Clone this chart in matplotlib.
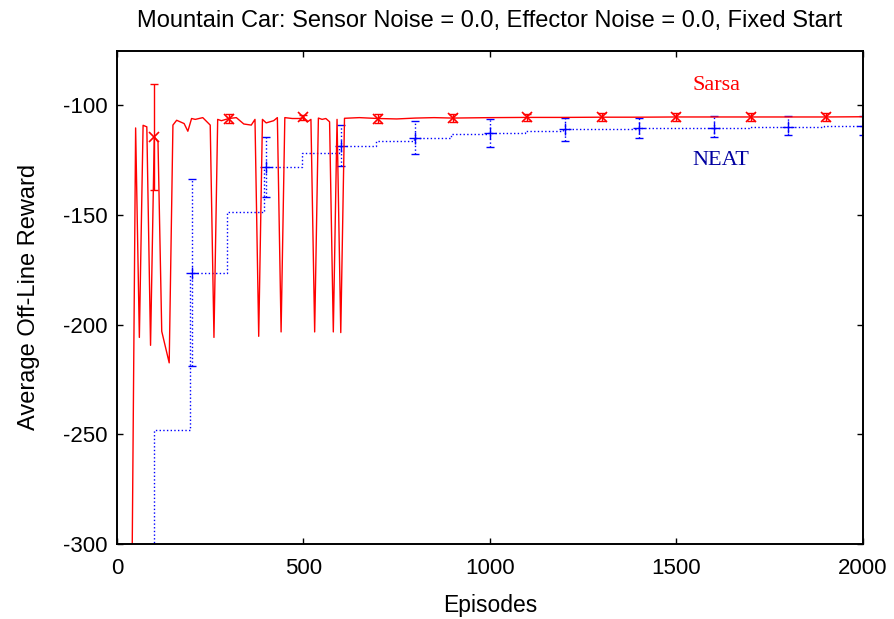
"""Mountain Car off-line reward: Sarsa vs NEAT (fixed start, no noise)."""

import matplotlib
matplotlib.use("Agg")
import matplotlib.pyplot as plt

plt.rcParams["axes.unicode_minus"] = False

# --- Sarsa: average off-line reward (sampled every ~10 episodes early on) ---
sarsa_ep = [30, 40, 50, 60, 70, 80, 90, 100, 110, 120, 140, 150, 160, 180, 190,
            200, 210, 230, 250, 260, 270, 280, 300, 320, 340, 360, 370, 380, 390,
            400, 420, 430, 440, 450, 470, 490, 500, 510, 520, 530, 540, 550, 560,
            570, 580, 590, 600, 610, 650, 700, 750, 800, 850, 900, 1000, 1100,
            1200, 1300, 1400, 1500, 1600, 1700, 1800, 1900, 2000]
sarsa_val = [-600, -320, -110.3, -205.8, -109.1, -109.8, -209.4, -114.4, -116.7,
             -203, -217.4, -109, -106.8, -108.3, -111.8,
             -106, -106.4, -105.6, -109, -205.8, -106.4, -107, -106, -105.6,
             -108.5, -109, -106.4, -205.3, -106.4,
             -108, -107, -105.6, -203.3, -105.6, -106, -106, -105.5, -107.6,
             -106.4, -203.3, -105.8, -106.4, -106,
             -107.5, -203.3, -106.4, -203.6, -105.9, -105.6, -106, -106.2, -105.8,
             -105.6, -105.8, -105.6, -105.5,
             -105.5, -105.4, -105.4, -105.3, -105.3, -105.3, -105.3, -105.3, -105.2]

# Sarsa error-bar points
sarsa_bar_ep = [100, 300, 500, 700, 900, 1100, 1300, 1500, 1700, 1900]
sarsa_bar_val = [-114.4, -106, -105.5, -106, -105.8, -105.5, -105.4, -105.3, -105.3, -105.3]
sarsa_bar_lo = [-138.6, -108, -106.6, -108, -107.6, -107.2, -107.1, -107.0, -107.0, -107.0]
sarsa_bar_hi = [-90.1, -104, -104.4, -104, -104, -103.8, -103.7, -103.6, -103.6, -103.6]

# --- NEAT: best-of-generation reward (step function) ---
neat_ep = [0, 100, 195, 295, 395, 495, 595, 695, 795, 895, 995, 1095, 1195,
           1295, 1395, 1495, 1595, 1695, 1795, 1895, 2000]
neat_val = [-400, -248, -176.5, -148.5, -128, -121.5, -118.6, -116.4, -114.8,
            -113.2, -112.6, -111.7, -111.0, -110.6, -110.3, -110.2, -110.2,
            -110.0, -110.0, -109.6, -109.4]

neat_bar_ep = [200, 400, 600, 800, 1000, 1200, 1400, 1600, 1800, 2000]
neat_bar_val = [-176.5, -128, -118.6, -114.8, -112.6, -111.0, -110.3, -110.2, -110.0, -109.4]
neat_bar_lo = [-219, -141.7, -127.7, -122.3, -119, -116.2, -114.8, -114.4, -113.6, -113.6]
neat_bar_hi = [-133.8, -114.4, -109, -107.3, -106, -105.6, -105.6, -105, -105, -105]


def yerr(vals, lo, hi):
    return [[v - a for v, a in zip(vals, lo)], [b - v for v, b in zip(vals, hi)]]


def main():
    fig = plt.figure(figsize=(8.95, 6.19), dpi=100)
    ax = fig.add_axes([0.1307, 0.1211, 0.8335, 0.7973])
    sans = "Liberation Sans"
    serif = "Liberation Serif"

    ax.plot(neat_ep, neat_val, color="#0000ff", ls=":", lw=1, drawstyle="steps-post")
    _, caps, bars = ax.errorbar(neat_bar_ep, neat_bar_val,
                                yerr=yerr(neat_bar_val, neat_bar_lo, neat_bar_hi),
                                fmt="none", ecolor="#0000ff", elinewidth=1, capsize=3)
    for b in bars:
        b.set_linestyle(":")
    ax.plot(neat_bar_ep, neat_bar_val, ls="none", marker="+", ms=9, mew=1, color="#0000ff")

    ax.plot(sarsa_ep, sarsa_val, color="#ff0000", lw=1)
    ax.errorbar(sarsa_bar_ep, sarsa_bar_val,
                yerr=yerr(sarsa_bar_val, sarsa_bar_lo, sarsa_bar_hi),
                fmt="none", ecolor="#ff0000", elinewidth=1, capsize=3)
    ax.plot(sarsa_bar_ep, sarsa_bar_val, ls="none", marker="x", ms=7, mew=1.2, color="#ff0000")

    ax.text(1606, -91, "Sarsa", color="#ff0000", fontsize=16, family=serif,
            ha="center", va="center")
    ax.text(1620, -125, "NEAT", color="#0000a0", fontsize=16, family=serif,
            ha="center", va="center")

    ax.set_xlim(0, 2000)
    ax.set_ylim(-300, -75)
    ax.set_xticks([0, 500, 1000, 1500, 2000])
    ax.set_yticks([-300, -250, -200, -150, -100])
    ax.tick_params(direction="in", top=True, right=True, length=4.5, width=1, pad=10)
    ax.tick_params(axis="y", pad=7)
    for lab in ax.get_xticklabels() + ax.get_yticklabels():
        lab.set_fontsize(16)
        lab.set_family(sans)
    for sp in ax.spines.values():
        sp.set_linewidth(1.4)
    ax.set_xlabel("Episodes", fontsize=16.5, family=sans, labelpad=11)
    ax.set_ylabel("Average Off-Line Reward", fontsize=17, family=sans, labelpad=16)
    ax.set_title("Mountain Car: Sensor Noise = 0.0, Effector Noise = 0.0, Fixed Start",
                 fontsize=17, family=sans, pad=17)

    fig.savefig("out.png", dpi=100)


if __name__ == "__main__":
    main()
